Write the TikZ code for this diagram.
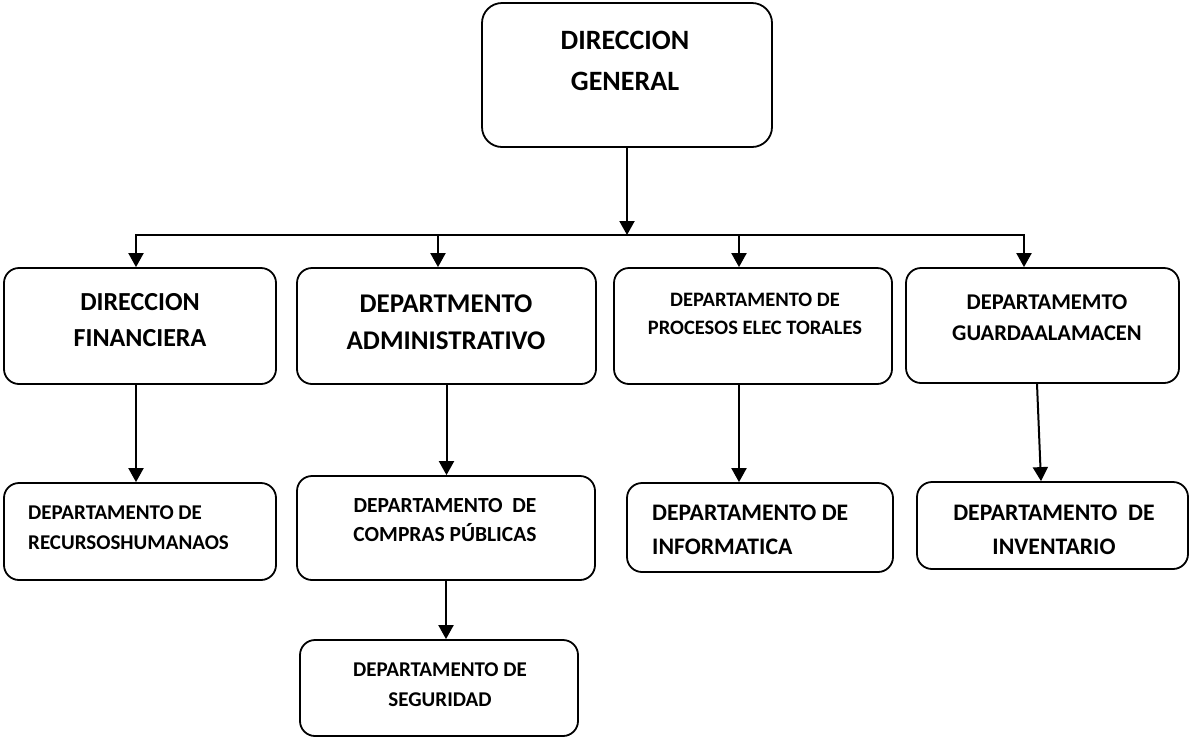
\documentclass[tikz,border=0pt]{standalone}
\usepackage{fontspec}
\setmainfont{Carlito}
\usetikzlibrary{arrows.meta,calc}
\tikzset{
  box/.style={draw, line width=1.8pt, rounded corners=15pt, inner sep=0pt},
  ln/.style={inner sep=0pt, anchor=base},
  lnw/.style={inner sep=0pt, anchor=base west},
  wire/.style={line width=2pt, line cap=rect},
  arr/.style={line width=2pt, -{Triangle[width=15pt,length=14pt]}},
  fs/.style={font=\fontsize{#1}{#1}\selectfont\bfseries},
}
\begin{document}
\begin{tikzpicture}[x=1pt,y=-1pt]
\useasboundingbox (0,0) rectangle (1189,740);

% boxes
\node[box, rounded corners=20pt, minimum width=290pt, minimum height=144pt] (dg) at (627,75) {};
\node[box, minimum width=272pt, minimum height=116pt] (fin) at (140,326) {};
\node[box, minimum width=299pt, minimum height=116pt] (adm) at (446.5,326) {};
\node[box, minimum width=278pt, minimum height=116pt] (proc) at (753,326) {};
\node[box, minimum width=273pt, minimum height=115pt] (guard) at (1042.5,325.5) {};
\node[box, minimum width=272pt, minimum height=97pt] (rrh) at (140,531.5) {};
\node[box, minimum width=298pt, minimum height=104pt] (comp) at (446,528) {};
\node[box, minimum width=278pt, minimum height=96pt] (seg) at (439,688) {};
\node[box, minimum width=266pt, minimum height=89pt] (inf) at (760,527.5) {};
\node[box, minimum width=271pt, minimum height=87pt] (inv) at (1052.5,525.5) {};

% labels
\node[ln, fs=28] (dg1) at (625,49) {DIRECCION};
\node[ln, fs=28] (dg2) at (625,90) {GENERAL};
\node[ln, fs=26] (fin1) at (140,310) {DIRECCION};
\node[ln, fs=26] (fin2) at (140,346) {FINANCIERA};
\node[ln, fs=27] (adm1) at (446,312) {DEPARTMENTO};
\node[ln, fs=27] (adm2) at (446,349) {ADMINISTRATIVO};
\node[ln, fs=20.5] (proc1) at (755,306.5) {DEPARTAMENTO DE};
\node[ln, fs=20.5] (proc2) at (755,334.5) {PROCESOS ELEC TORALES};
\node[ln, fs=22.5] (guard1) at (1047,309) {DEPARTAMEMTO};
\node[ln, fs=22.5] (guard2) at (1047,340) {GUARDAALAMACEN};
\node[lnw, fs=21] (rrh1) at (28,519) {DEPARTAMENTO DE};
\node[lnw, fs=21] (rrh2) at (28,549) {RECURSOSHUMANAOS};
\node[ln, fs=21.5] (comp1) at (445,512) {DEPARTAMENTO~~DE};
\node[ln, fs=21.5] (comp2) at (445,541) {COMPRAS PÚBLICAS};
\node[ln, fs=21] (seg1) at (440,676) {DEPARTAMENTO DE};
\node[ln, fs=21] (seg2) at (440,706) {SEGURIDAD};
\node[lnw, fs=23.7] (inf1) at (652,520.5) {DEPARTAMENTO DE};
\node[lnw, fs=23.7] (inf2) at (652,554.5) {INFORMATICA};
\node[ln, fs=23.7] (inv1) at (1054,520.5) {DEPARTAMENTO~~DE};
\node[ln, fs=23.7] (inv2) at (1054,554.5) {INVENTARIO};

% distribution bar below the head office
\coordinate (t1) at (136,235);
\coordinate (t2) at (438,235);
\coordinate (t3) at (739,235);
\coordinate (t4) at (1024,235);
\draw[wire] (t1) -- (t4);
\draw[arr] (dg.south) -- (dg.south |- t1);
\draw[arr] (t1) -- (t1 |- fin.north);
\draw[arr] (t2) -- (t2 |- adm.north);
\draw[arr] (t3) -- (t3 |- proc.north);
\draw[arr] (t4) -- (t4 |- guard.north);

% lower levels
\draw[arr] (t1 |- fin.south) -- (t1 |- rrh.north);
\draw[arr] (adm.south) -- (adm.south |- comp.north);
\draw[arr] (comp.south) -- (comp.south |- seg.north);
\draw[arr] (t3 |- proc.south) -- (t3 |- inf.north);
\draw[arr] ($(guard.south)+(-5.5,0)$) -- ($(inv.north)+(-11.5,0)$);
\end{tikzpicture}
\end{document}
